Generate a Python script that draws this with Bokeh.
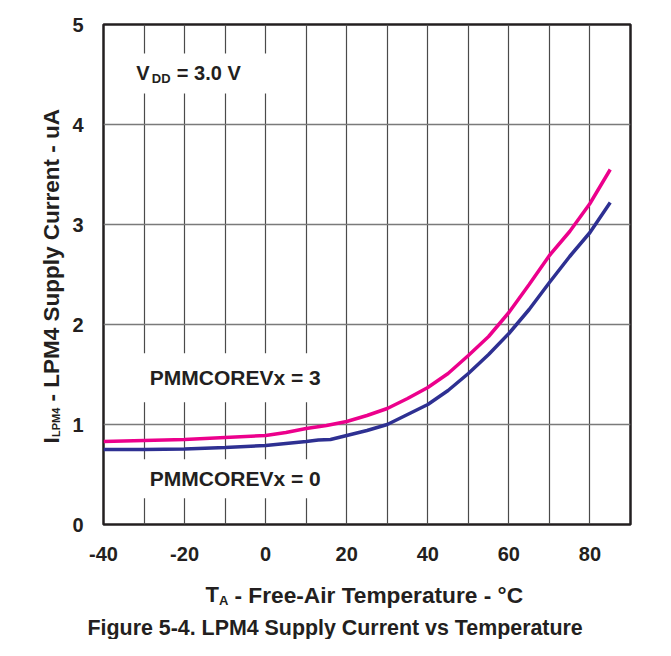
import math
from bokeh.plotting import figure
from bokeh.layouts import row, column
from bokeh.models import Range1d, FixedTicker, Label, Title
from bokeh.embed import file_html
from bokeh.resources import INLINE

# ---- data ----
temp_pmm3 = [-40, -30, -20, -10, 0, 5, 10, 15, 20, 25, 30, 35, 40, 45, 50, 55, 60, 65, 70, 75, 80, 85]
cur_pmm3 = [0.83, 0.84, 0.85, 0.87, 0.89, 0.92, 0.96, 0.99, 1.03, 1.09, 1.16, 1.26, 1.37, 1.51, 1.69,
            1.88, 2.12, 2.40, 2.69, 2.93, 3.21, 3.55]
temp_pmm0 = [-40, -30, -20, -10, 0, 5, 10, 13, 16, 20, 25, 30, 35, 40, 45, 50, 55, 60, 65, 70, 75, 80, 85]
cur_pmm0 = [0.75, 0.75, 0.755, 0.77, 0.79, 0.81, 0.83, 0.845, 0.85, 0.89, 0.94, 1.00, 1.10, 1.20, 1.34,
            1.51, 1.70, 1.91, 2.15, 2.42, 2.68, 2.92, 3.22]
x_ticks = [-40, -20, 0, 20, 40, 60, 80]
x_tick_labels = ["-40", "-20", "0", "20", "40", "60", "80"]
x_grid = [-30, -20, -10, 0, 10, 20, 30, 40, 50, 60, 70, 80]
y_ticks = [0, 1, 2, 3, 4, 5]
y_grid = [1, 2, 3, 4]

FONT = "Liberation Sans"
INK = "#231f20"
PINK = "#EC008C"
NAVY = "#2E3092"

LEFT_W = 66
MAIN_W = 597
MAIN_H = 572
BOTTOM_H = 67
B_LEFT = 37
B_RIGHT = 33

# ---------------- main plot ----------------
p = figure(width=MAIN_W, height=MAIN_H, output_backend="svg", toolbar_location=None,
           x_range=Range1d(-40, 90), y_range=Range1d(0, 5),
           min_border_left=B_LEFT, min_border_right=B_RIGHT, min_border_top=24, min_border_bottom=48)
p.background_fill_color = "white"
p.border_fill_color = "white"
p.outline_line_color = INK
p.outline_line_width = 2.5

p.xaxis.ticker = FixedTicker(ticks=x_ticks)
p.xaxis.major_label_overrides = {t: s for t, s in zip(x_ticks, x_tick_labels)}
p.yaxis.ticker = FixedTicker(ticks=y_ticks)
p.xgrid.ticker = FixedTicker(ticks=x_grid)
p.ygrid.ticker = FixedTicker(ticks=y_grid)
p.xgrid.grid_line_color = "#4a4a4a"
p.xgrid.grid_line_width = 1.2
p.ygrid.grid_line_color = "#7a7a7a"
p.ygrid.grid_line_width = 1.5

for ax in (p.xaxis, p.yaxis):
    ax.axis_line_color = None
    ax.major_tick_line_color = None
    ax.minor_tick_line_color = None
    ax.major_label_text_font = FONT
    ax.major_label_text_font_style = "bold"
    ax.major_label_text_font_size = "20px"
    ax.major_label_text_color = INK
p.xaxis.major_label_standoff = 16
p.yaxis.major_label_standoff = 14

p.line(temp_pmm3, cur_pmm3, line_color=PINK, line_width=3.5)
p.line(temp_pmm0, cur_pmm0, line_color=NAVY, line_width=3.5)


def lab(fig, text, x, y, size, **kw):
    l = Label(x=x, y=y, text=text, text_font=FONT, text_font_style="bold",
              text_font_size=f"{size}px", text_color=INK, text_baseline="middle", **kw)
    fig.add_layout(l)
    return l


# V_DD label (background label first so it hides the grid lines behind the text)
lab(p, "= 3.0 V", -38.45, 4.51, 20,
    background_fill_color="white",
    padding=dict(left=67, right=28, top=8, bottom=10))
lab(p, "V", -31.9, 4.52, 20)
lab(p, "DD", -31.9, 4.52, 13, x_offset=15.5, y_offset=-6)

# curve labels
lab(p, "PMMCOREVx = 3", -38.45, 1.467, 21, background_fill_color="white",
    padding=dict(left=40, right=10, top=13, bottom=13))
lab(p, "PMMCOREVx = 0", -38.45, 0.457, 21, background_fill_color="white",
    padding=dict(left=40, right=10, top=8, bottom=8))


# ---------------- text strips ----------------
def strip(w, h, x_range, y_range, **borders):
    f = figure(width=w, height=h, output_backend="svg", toolbar_location=None,
               x_range=x_range, y_range=y_range,
               x_axis_type=None, y_axis_type=None, **borders)
    f.grid.visible = False
    f.outline_line_color = None
    f.background_fill_color = "white"
    f.border_fill_color = "white"
    return f


# left strip: data coords = page pixels (y negated)
left = strip(LEFT_W, MAIN_H + BOTTOM_H, Range1d(0, LEFT_W), Range1d(-(MAIN_H + BOTTOM_H), 0),
             min_border=0, min_border_left=0, min_border_right=0,
             min_border_top=0, min_border_bottom=0)

# bottom strip: frame aligned with the main frame; x in page pixels, labels hung from frame top
frame_l = LEFT_W + B_LEFT
frame_r = LEFT_W + MAIN_W - B_RIGHT
bottom = strip(MAIN_W, BOTTOM_H, Range1d(frame_l, frame_r), Range1d(0, 1),
               min_border=0, min_border_left=B_LEFT, min_border_right=B_RIGHT,
               min_border_top=0, min_border_bottom=0)

# y-axis title with subscript (rotated)
lab(left, "I", 51, -443, 22.5, angle=math.pi / 2)
lab(left, "LPM4", 55, -436.5, 11, angle=math.pi / 2)
lab(left, "- LPM4 Supply Current  - uA", 51, -401, 22.5, angle=math.pi / 2)

# x-axis title with subscript (page y 594 = 22 px below strip top)
lab(bottom, "T", 205, 1, 22, y_offset=-22)
lab(bottom, "A", 218.5, 1, 13, y_offset=-28)
lab(bottom, "- Free-Air Temperature - °C", 234, 1, 22.7, y_offset=-22)

# figure caption
cap = Title(text="Figure 5-4. LPM4 Supply Current vs Temperature", align="left", offset=-16,
            standoff=0, text_font=FONT, text_font_style="bold", text_font_size="21.4px",
            text_color=INK)
bottom.add_layout(cap, "below")

layout = row(left, column(p, bottom))
open("out.html", "w").write(file_html(layout, INLINE))
